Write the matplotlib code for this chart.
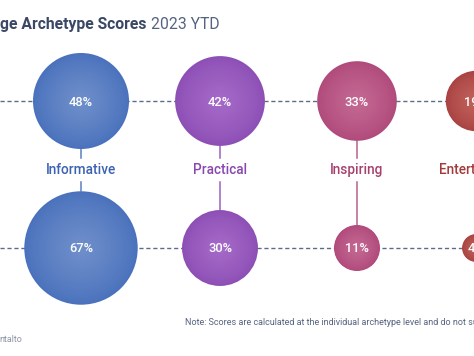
import numpy as np
import matplotlib.pyplot as plt
from matplotlib.patches import Circle
from matplotlib.colors import to_rgb

plt.rcParams['font.family'] = ['Roboto', 'DejaVu Sans']

# datos
categorias = ['Informative', 'Practical', 'Inspiring', 'Entertaining']
fila_arriba = [48, 42, 33, 19]
fila_abajo = [67, 30, 11, 4]

col_borde = ['#4a71bc', '#8d4fb5', '#b04a7b', '#a94343']
col_centro = ['#6f8fca', '#a56ac8', '#c46993', '#c2635c']
col_texto = ['#3c62b2', '#8848ae', '#a6416e', '#a43b3b']
col_linea = ['#5b7fc4', '#9a62c0', '#b9618b', '#b35552']

# layout (pixeles)
W, H = 474, 356
xs = [81, 220, 357, 476]
y1, y2 = 101, 248
y_label = 174
escala = 48  # radio = sqrt(escala * valor)

fig = plt.figure(figsize=(W / 100, H / 100), dpi=100)
ax = fig.add_axes([0, 0, 1, 1])
ax.set_xlim(0, W)
ax.set_ylim(H, 0)
ax.axis('off')


def burbuja(x, y, r, c1, c2):
    # degradado radial hecho con circulos concentricos
    a = np.array(to_rgb(c1))
    b = np.array(to_rgb(c2))
    n = 40
    for i in range(n):
        t = i / (n - 1)
        col = a * (1 - t ** 0.8) + b * t ** 0.8
        ax.add_patch(Circle((x, y), r * (1 - 0.97 * t), color=col, lw=0, zorder=3 + t))


# lineas punteadas horizontales
for yy in (y1, y2):
    ax.plot([0, W], [yy, yy], color='#5c6b86', lw=1.0, ls=(0, (3, 2)), zorder=1)

for i, cat in enumerate(categorias):
    r1 = np.sqrt(escala * fila_arriba[i])
    r2 = np.sqrt(escala * fila_abajo[i])
    x = xs[i]
    ax.plot([x, x], [y1 + r1, 158], color=col_linea[i], lw=1.1, zorder=2)
    ax.plot([x, x], [182, y2 - r2], color=col_linea[i], lw=1.1, zorder=2)
    burbuja(x, y1, r1, col_borde[i], col_centro[i])
    burbuja(x, y2, r2, col_borde[i], col_centro[i])
    ax.text(x, y1 + 4.5, f'{fila_arriba[i]}%', color='white', fontsize=9.3,
            fontweight='medium', ha='center', va='baseline', zorder=6)
    ax.text(x, y2 + 4.5, f'{fila_abajo[i]}%', color='white', fontsize=9.3,
            fontweight='medium', ha='center', va='baseline', zorder=6)
    ax.text(x, y_label, cat, color=col_texto[i], fontsize=9.8,
            fontweight='medium', ha='center', va='baseline', zorder=6)

# titulo (recortado a la izquierda)
t1 = ax.text(0, 29, 'ge Archetype Scores', color='#3a4866', fontsize=11.3,
             fontweight='bold', ha='left', va='baseline')
fig.canvas.draw()
bb = t1.get_window_extent()
ax.text(bb.x1 + 5, 29, '2023 YTD', color='#566380', fontsize=11.3,
        ha='left', va='baseline')

ax.text(185, 325, 'Note: Scores are calculated at the individual archetype level '
        'and do not sum to 100%', color='#56647e', fontsize=6.5,
        ha='left', va='baseline')
ax.text(-1, 341.5, 'ntalto', color='#8e96a6', fontsize=6.5,
        ha='left', va='baseline')

fig.savefig('out.png', dpi=100)
